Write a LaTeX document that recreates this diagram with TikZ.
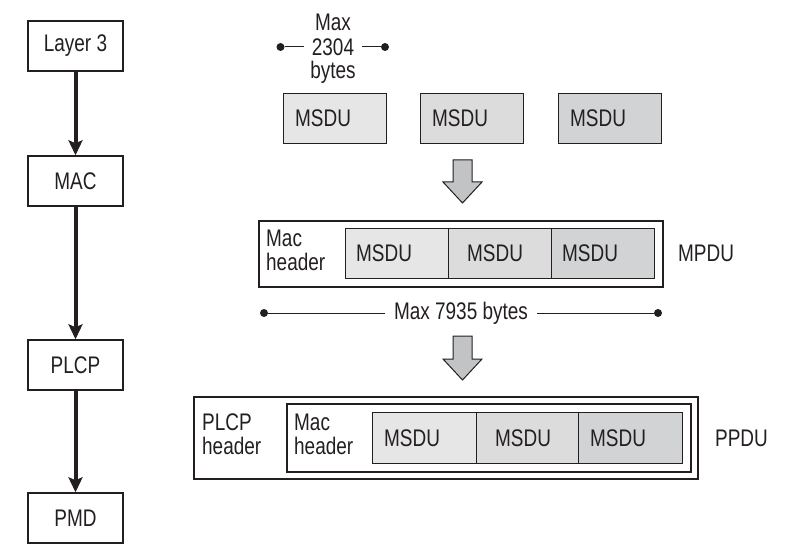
\documentclass[tikz,border=0pt]{standalone}
\usepackage{fontspec}
\setmainfont{Liberation Sans}[FakeStretch=0.79]
\usetikzlibrary{arrows.meta}
\definecolor{ink}{HTML}{231F20}
\definecolor{fillA}{HTML}{E6E6E6}
\definecolor{fillB}{HTML}{DCDCDD}
\definecolor{fillC}{HTML}{D2D3D4}
\definecolor{blockgray}{HTML}{C2C3C5}
\begin{document}
\begin{tikzpicture}[x=1pt,y=-1pt,
  every node/.style={font=\fontsize{24}{24}\selectfont, text=ink},
  layerbox/.style={draw=ink, line width=1.4pt, fill=white, minimum width=95pt, minimum height=50pt, inner sep=0pt},
  cell/.style={draw=ink, line width=1.4pt, minimum height=50pt, inner sep=0pt, anchor=north west},
  frame/.style={draw=ink, line width=1.4pt, inner sep=0pt},
  lbl/.style={anchor=west, inner sep=0pt},
  twoline/.style={anchor=west, align=left, inner sep=0pt},
  flow/.style={draw=ink, line width=4pt, -{Stealth[length=15pt,width=14pt,inset=3pt]}},
  measure/.style={draw=ink, line width=1pt},
  dot/.style={circle, fill=ink, inner sep=0pt, minimum size=8pt},
  blockarrow/.style={draw=ink, line width=1pt, fill=blockgray, line join=miter}
]
\useasboundingbox (0,0) rectangle (788,559);

% protocol layers
\node[layerbox] (l3)   at (75.5,46)  {Layer 3};
\node[layerbox] (mac)  at (75.5,181) {MAC};
\node[layerbox] (plcp) at (75.5,365) {PLCP};
\node[layerbox] (pmd)  at (75.5,518) {PMD};
\draw[flow] (l3) -- (mac);
\draw[flow] (mac) -- (plcp);
\draw[flow] (plcp) -- (pmd);

% size limit of one MSDU
\node[inner sep=0pt] (maxA) at (333,22) {Max};
\node[inner xsep=8pt, inner ysep=0pt] (maxB) at (333,47) {2304};
\node[inner sep=0pt] (maxC) at (333,72) {bytes};
\node[dot] (dA1) at (280.5,47) {};
\node[dot] (dA2) at (385,47) {};
\draw[measure] (dA1) -- (maxB.west);
\draw[measure] (maxB.east) -- (dA2);

% separate MSDUs
\node[cell, fill=fillA, minimum width=103pt] (m1) at (283,93) {};
\node[cell, fill=fillB, minimum width=103pt] (m2) at (420,93) {};
\node[cell, fill=fillC, minimum width=103pt] (m3) at (558,93) {};
\node[lbl] (m1t) at (295,118) {MSDU};
\node[lbl] (m2t) at (432,118) {MSDU};
\node[lbl] (m3t) at (570,118) {MSDU};

% block arrow: MSDUs to MPDU
\draw[blockarrow] (453,160) -- (472,160) -- (472,182) -- (482,182) -- (462.5,203)
  -- (443,182) -- (453,182) -- cycle;

% MPDU
\node[frame, minimum width=404pt, minimum height=66pt] (mpdu) at (461,254) {};
\node[cell, fill=fillA, minimum width=103pt] (p1) at (345,228) {};
\node[cell, fill=fillB, minimum width=103pt] (p2) at (448,228) {};
\node[cell, fill=fillC, minimum width=103pt] (p3) at (551,228) {};
\node[lbl] (p1t) at (356,253) {MSDU};
\node[lbl] (p2t) at (467,253) {MSDU};
\node[lbl] (p3t) at (562,253) {MSDU};
\node[twoline] (machdrA) at (266,250) {Mac\\header};
\node[lbl] (mpdut) at (678,253) {MPDU};

% size limit of the MPDU
\node[inner xsep=9pt, inner ysep=0pt] (maxD) at (461,313) {Max 7935 bytes};
\node[dot] (dB1) at (264,313) {};
\node[dot] (dB2) at (658,313) {};
\draw[measure] (dB1) -- (maxD.west);
\draw[measure] (maxD.east) -- (dB2);

% block arrow: MPDU to PPDU
\draw[blockarrow] (453,336) -- (472,336) -- (472,359) -- (482,359) -- (462.5,380)
  -- (443,359) -- (453,359) -- cycle;

% PPDU
\node[frame, minimum width=504pt, minimum height=82pt] (ppdu) at (446,438) {};
\node[frame, minimum width=404pt, minimum height=68pt] (ppduin) at (489,438) {};
\node[cell, fill=fillA, minimum width=104pt, minimum height=51pt] (q1) at (372,412) {};
\node[cell, fill=fillB, minimum width=102pt, minimum height=51pt] (q2) at (476,412) {};
\node[cell, fill=fillC, minimum width=104pt, minimum height=51pt] (q3) at (578,412) {};
\node[lbl] (q1t) at (384,438) {MSDU};
\node[lbl] (q2t) at (495,438) {MSDU};
\node[lbl] (q3t) at (590,438) {MSDU};
\node[twoline] (plcphdr) at (202,434) {PLCP\\header};
\node[twoline] (machdrB) at (294,434) {Mac\\header};
\node[lbl] (ppdut) at (715,438) {PPDU};
\end{tikzpicture}
\end{document}
